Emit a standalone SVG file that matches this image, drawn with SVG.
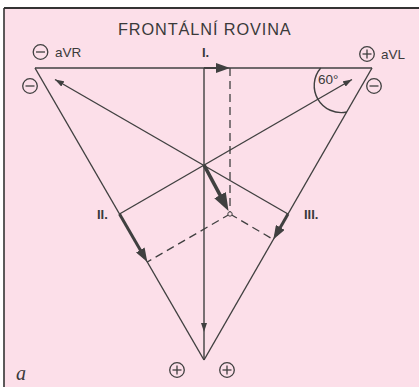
<svg xmlns="http://www.w3.org/2000/svg" width="419" height="387" viewBox="0 0 419 387">
<style>
.ln{stroke:#404040;stroke-width:1.4;fill:none}
.thick{stroke:#404040;stroke-width:3;fill:none}
.vec{stroke:#404040;stroke-width:3.6;fill:none}
.dash{stroke:#404040;stroke-width:1.3;fill:none;stroke-dasharray:8 5}
.sym{stroke:#404040;stroke-width:1.3;fill:none}
.t{font-family:"Liberation Sans",Arial,sans-serif;fill:#3a3a3a}
.b{font-family:"Liberation Sans",Arial,sans-serif;font-weight:bold;fill:#3a3a3a;font-size:13px}
</style>
<defs>
<marker id="sm" markerUnits="userSpaceOnUse" markerWidth="9" markerHeight="6" viewBox="0 0 9 6" refX="9" refY="3" orient="auto"><path d="M0,0 L9,3 L0,6 z" fill="#404040"/></marker>
<marker id="md" markerUnits="userSpaceOnUse" markerWidth="14" markerHeight="10" viewBox="0 0 14 10" refX="9" refY="5" orient="auto"><path d="M0,0 L14,5 L0,10 z" fill="#404040"/></marker>
<marker id="lg" markerUnits="userSpaceOnUse" markerWidth="18" markerHeight="13" viewBox="0 0 18 13" refX="12" refY="6.5" orient="auto"><path d="M0,0 L18,6.5 L0,13 z" fill="#404040"/></marker>
</defs>
<rect x="0" y="0" width="419" height="387" fill="#ffffff"/>
<rect x="4" y="8" width="415" height="379" fill="#fcdfe9"/>
<line x1="4" y1="8" x2="419" y2="8" stroke="#333" stroke-width="2"/>
<line x1="4" y1="8" x2="4" y2="387" stroke="#333" stroke-width="1.6"/>
<text class="t" x="118" y="35" font-size="16.3" letter-spacing="0.9">FRONTÁLNÍ ROVINA</text>
<g id="connectors">
<line class="ln" x1="35" y1="68" x2="372" y2="68"/>
<line class="ln" x1="35" y1="68" x2="204" y2="360"/>
<line class="ln" x1="372" y1="68" x2="204" y2="360"/>
<line class="ln" x1="288" y1="214" x2="55" y2="79.5" marker-end="url(#sm)"/>
<line class="ln" x1="119.5" y1="214" x2="352" y2="79.5" marker-end="url(#sm)"/>
<line class="ln" x1="204" y1="68" x2="204" y2="332" marker-end="url(#sm)"/>
<line class="ln" x1="204" y1="332" x2="204" y2="360"/>
<line class="dash" x1="230" y1="68" x2="230" y2="212"/>
<line class="dash" x1="230" y1="214" x2="147.3" y2="262"/>
<line class="dash" x1="230" y1="214" x2="273.3" y2="239.5"/>
<line stroke="#404040" stroke-width="2" x1="204" y1="68" x2="225" y2="68" marker-end="url(#md)"/>
<line class="thick" x1="119.5" y1="214" x2="144.8" y2="257.7" marker-end="url(#md)"/>
<line class="thick" x1="288" y1="214" x2="275.8" y2="235.2" marker-end="url(#md)"/>
<line class="vec" x1="204" y1="165" x2="225.7" y2="205.7" marker-end="url(#lg)"/>
<circle cx="230" cy="214" r="2.2" fill="#fcdfe9" stroke="#404040" stroke-width="1"/>
<path class="ln" d="M320.7,68 A27,27 0 0 0 346.7,112"/>
</g>
<g id="lead-I"><text class="b" x="202" y="57">I.</text></g>
<g id="lead-II"><text class="b" x="97" y="219">II.</text></g>
<g id="lead-III"><text class="b" x="304" y="219">III.</text></g>
<g id="angle"><text class="t" x="318" y="84" font-size="13.5">60°</text></g>
<g id="aVR">
<circle class="sym" cx="40.5" cy="52" r="7.3"/><line class="sym" x1="36" y1="52" x2="45" y2="52"/>
<text class="t" x="55" y="57" font-size="13.5">aVR</text>
<circle class="sym" cx="30" cy="86" r="7.3"/><line class="sym" x1="25.5" y1="86" x2="34.5" y2="86"/>
</g>
<g id="aVL">
<circle class="sym" cx="367" cy="54" r="7.3"/><line class="sym" x1="362.5" y1="54" x2="371.5" y2="54"/><line class="sym" x1="367" y1="49.5" x2="367" y2="58.5"/>
<text class="t" x="381" y="59" font-size="13.5">aVL</text>
<circle class="sym" cx="374" cy="86" r="7.3"/><line class="sym" x1="369.5" y1="86" x2="378.5" y2="86"/>
</g>
<g id="aVF">
<circle class="sym" cx="177" cy="370" r="7.3"/><line class="sym" x1="172.5" y1="370" x2="181.5" y2="370"/><line class="sym" x1="177" y1="365.5" x2="177" y2="374.5"/>
<circle class="sym" cx="227" cy="370" r="7.3"/><line class="sym" x1="222.5" y1="370" x2="231.5" y2="370"/><line class="sym" x1="227" y1="365.5" x2="227" y2="374.5"/>
</g>
<text x="16" y="380" font-family="'Liberation Serif','Times New Roman',serif" font-style="italic" font-size="20" fill="#3a3a3a">a</text>
</svg>
